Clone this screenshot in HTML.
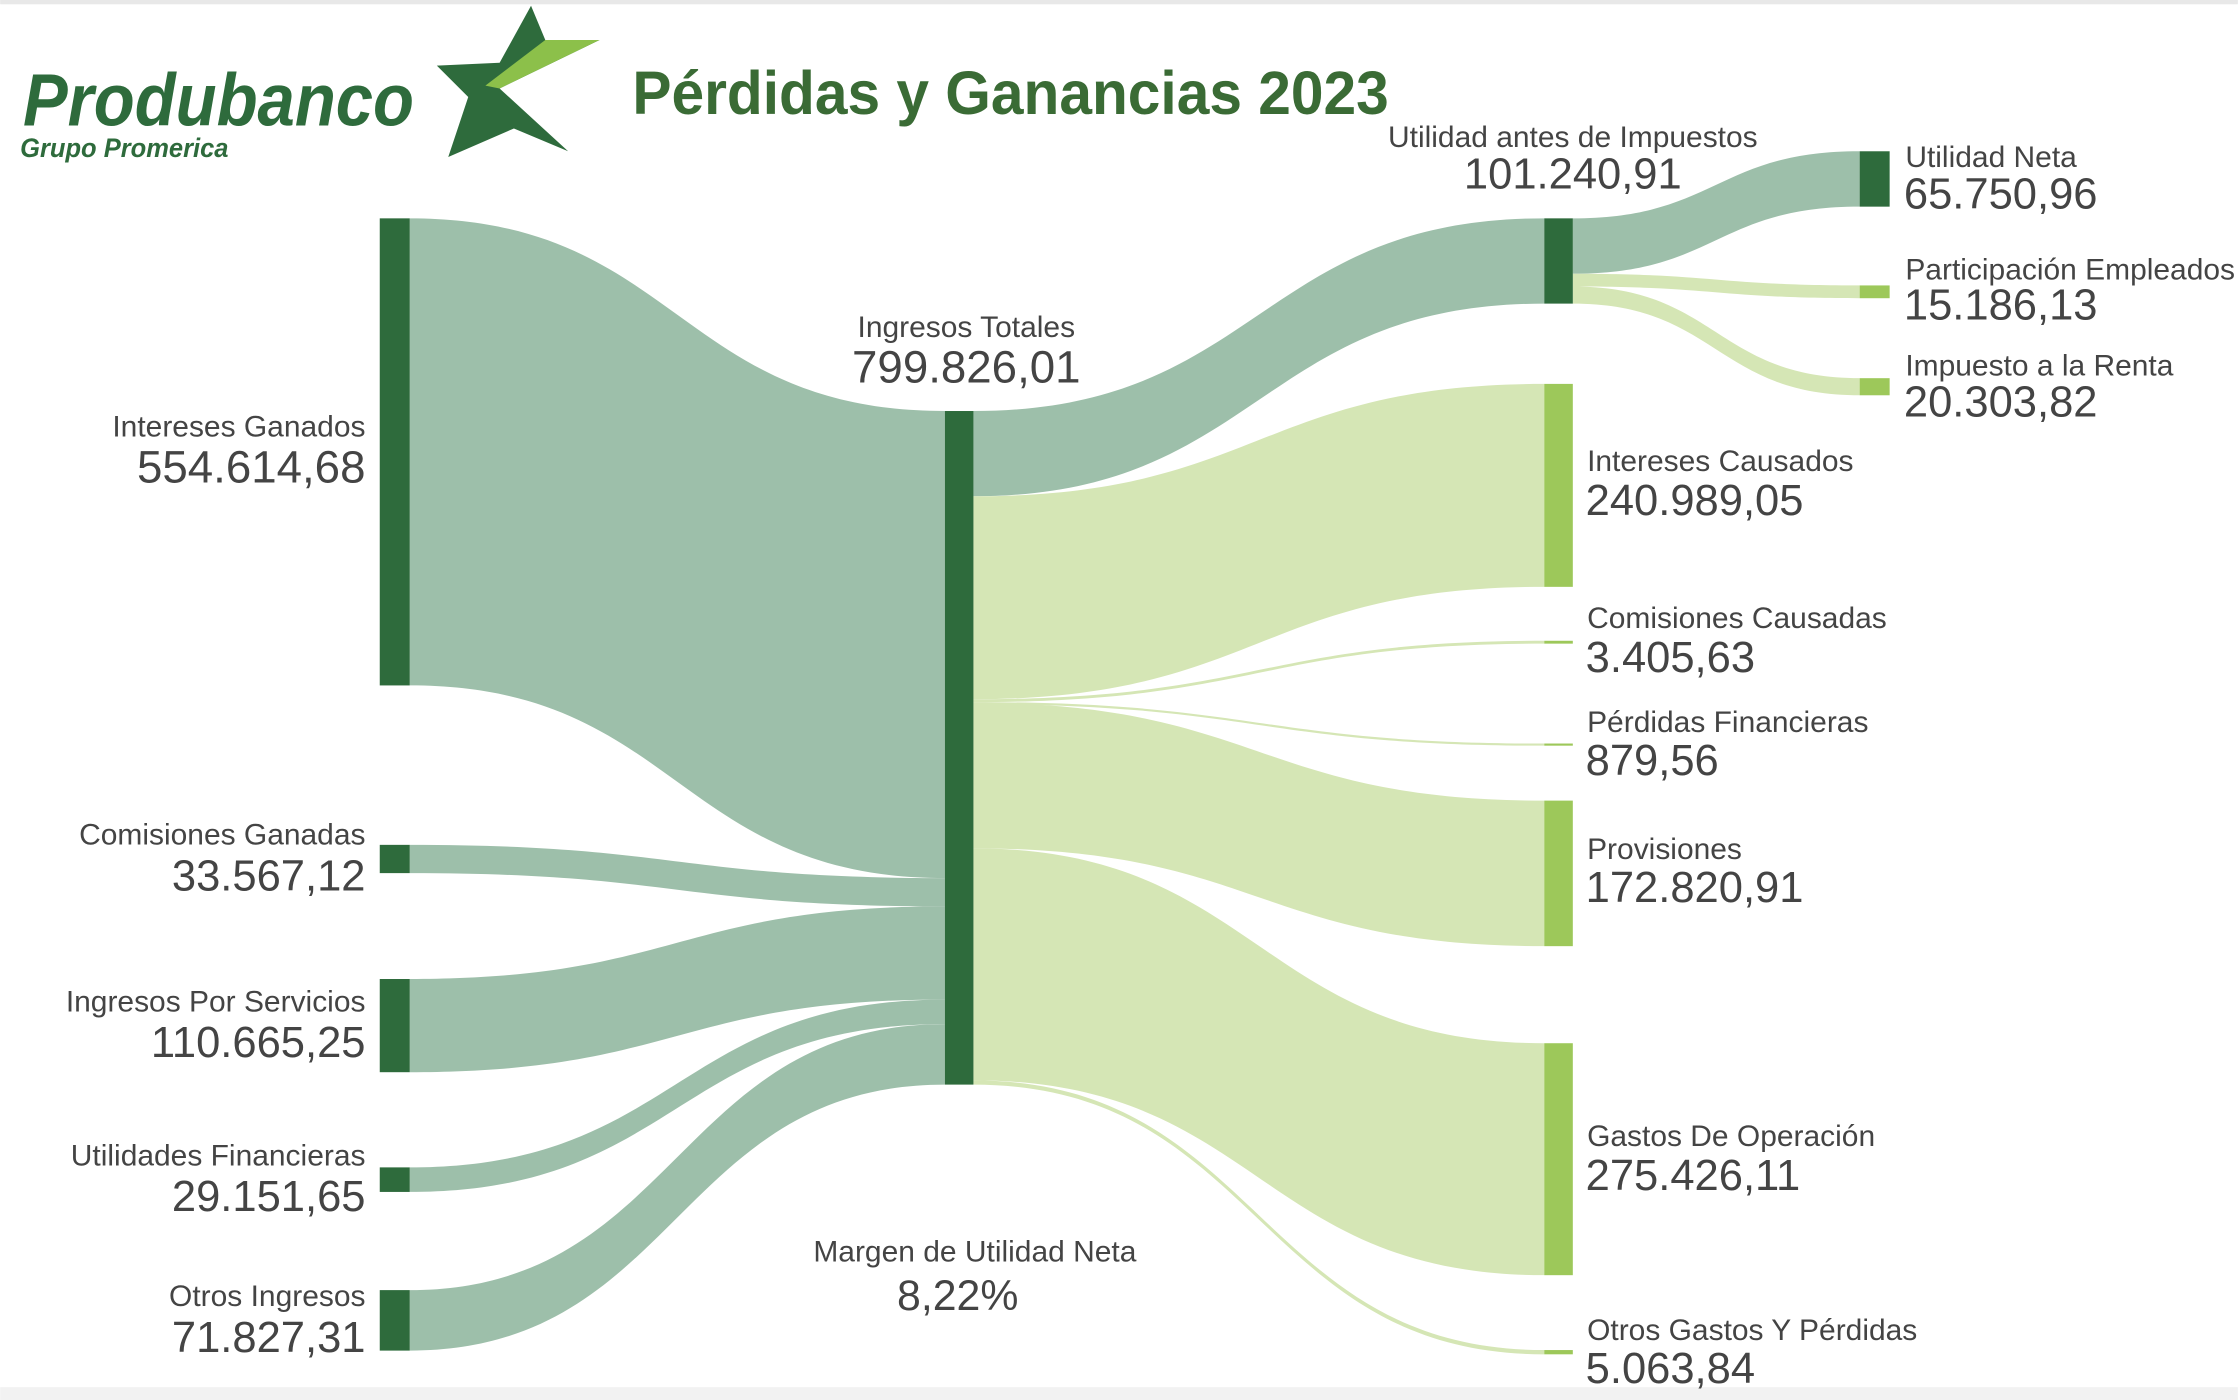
<!DOCTYPE html>
<html><head><meta charset="utf-8">
<style>
html,body{margin:0;padding:0;background:#fff;}
svg{display:block;}
text{font-family:"Liberation Sans",sans-serif;fill:#444;}
</style></head>
<body>
<svg id="chart" width="2238" height="1400" viewBox="0 0 1568 981" xmlns="http://www.w3.org/2000/svg">
<rect x="0" y="0" width="1568" height="981" fill="#fff"/>
<rect x="0" y="0" width="1568" height="3" fill="#e8e8e8"/>
<rect x="0" y="972" width="1568" height="9" fill="#f2f2f2"/>
<g>
<text x="16" y="88" textLength="274" lengthAdjust="spacingAndGlyphs" style="font-size:52px;font-weight:bold;font-style:italic;fill:#2e6b3c">Produbanco</text>
<text x="14" y="110" textLength="146" lengthAdjust="spacingAndGlyphs" style="font-size:19px;font-weight:bold;font-style:italic;fill:#2e6b3c">Grupo Promerica</text>
<polygon points="372,4 382,28 420,28 350,62 398,106 360,90 314,110 328,68 306,46 350,44" fill="#2e6b3c"/>
<polygon points="382,28 420,28 350,62 340,60" fill="#8cc04a"/>
</g>
<text x="443" y="80" textLength="530" lengthAdjust="spacingAndGlyphs" style="font-size:43px;font-weight:bold;fill:#3a6b35">Pérdidas y Ganancias 2023</text>
<g id="links"></g>
<g id="nodes"></g>
<g id="labels"></g>
</svg>
<script>
// Data
const leftNames = ["Intereses Ganados","Comisiones Ganadas","Ingresos Por Servicios","Utilidades Financieras","Otros Ingresos"];
const leftValues = [554614.68,33567.12,110665.25,29151.65,71827.31];
const rightNames = ["Utilidad antes de Impuestos","Intereses Causados","Comisiones Causadas","Pérdidas Financieras","Provisiones","Gastos De Operación","Otros Gastos Y Pérdidas"];
const rightValues = [101240.91,240989.05,3405.63,879.56,172820.91,275426.11,5063.84];
const farNames = ["Utilidad Neta","Participación Empleados","Impuesto a la Renta"];
const farValues = [65750.96,15186.13,20303.82];
const totalLabel = "799.826,01";
const marginLabel = "8,22%";

const svgNS="http://www.w3.org/2000/svg";
const K = 472/799826.01;
const h = v=>Math.max(v*K,1.5);
const fmt = v=>{const p=v.toFixed(2).split('.');return p[0].replace(/\B(?=(\d{3})+(?!\d))/g,'.')+','+p[1];};
const linksG=document.getElementById('links'),nodesG=document.getElementById('nodes'),labelsG=document.getElementById('labels');
function rect(x,y,w,hh,fill,name){const r=document.createElementNS(svgNS,'rect');r.setAttribute('x',x);r.setAttribute('y',y);r.setAttribute('width',w);r.setAttribute('height',hh);r.setAttribute('fill',fill);


nodesG.appendChild(r);}
function link(x0,y0,x1,y1,th,fill,name){const mx=(x0+x1)/2;const p=document.createElementNS(svgNS,'path');
p.setAttribute('d',`M${x0},${y0}C${mx},${y0} ${mx},${y1} ${x1},${y1}L${x1},${y1+th}C${mx},${y1+th} ${mx},${y0+th} ${x0},${y0+th}Z`);p.setAttribute('fill',fill);


linksG.appendChild(p);}
function txt(x,y,s,size,anchor,name){const t=document.createElementNS(svgNS,'text');t.setAttribute('x',x);t.setAttribute('y',y);t.setAttribute('text-anchor',anchor);t.style.fontSize=size+'px';t.textContent=s;


labelsG.appendChild(t);}
const slug=s=>s.toLowerCase().normalize('NFD').replace(/[\u0300-\u036f]/g,'').replace(/[^a-z0-9]+/g,'-');

const DARK="#2e6b3c",LL="#9dbfaa",RL="#d5e6b5",RN="#9dc85a";
const NS=21, VS=30.5;
// center
const cx=662,cw=20,cy=288;
let tot=leftValues.reduce((a,b)=>a+b,0);
rect(cx,cy,cw,tot*K,DARK,'node-ingresos-totales');
txt(677,236,"Ingresos Totales",NS,'middle','center-name');
txt(677,268,totalLabel,32,'middle','center-value');
txt(683,884,"Margen de Utilidad Neta",NS,'middle','margin-name');
txt(671,918,marginLabel,30,'middle','margin-value');
// left
const leftTops=[153,592,686,818,904];
let acc=cy;
leftValues.forEach((v,i)=>{const hh=h(v);link(287,leftTops[i],cx,acc,hh,LL,'link-'+slug(leftNames[i]));
rect(266,leftTops[i],21,hh,DARK,'node-'+slug(leftNames[i]));
const c=leftTops[i]+hh/2;
if(i==0){txt(256,306,leftNames[i],NS,'end','label-'+slug(leftNames[i]));txt(256,338,fmt(v),32,'end','value-'+slug(leftNames[i]));}
else{txt(256,c-10,leftNames[i],NS,'end','label-'+slug(leftNames[i]));txt(256,c+22,fmt(v),VS,'end','value-'+slug(leftNames[i]));}
acc+=v*K;});
// right
const rightTops=[153,269,449,521,561,731,946];
acc=cy;
rightValues.forEach((v,i)=>{const hh=h(v);const col=i==0?LL:RL;link(cx+cw,acc,1082,rightTops[i],hh,col,'link-'+slug(rightNames[i]));
rect(1082,rightTops[i],20,hh,i==0?DARK:RN,'node-'+slug(rightNames[i]));
acc+=v*K;});
txt(1102,103,rightNames[0],NS,'middle','label-utilidad-antes');
txt(1102,132,fmt(rightValues[0]),VS,'middle','value-utilidad-antes');
const rLab=[[0,0],[330,361],[440,471],[513,543],[602,632],[803,834],[939,969]];
for(let i=1;i<rightNames.length;i++){txt(1112,rLab[i][0],rightNames[i],NS,'start','label-'+slug(rightNames[i]));txt(1111,rLab[i][1],fmt(rightValues[i]),VS,'start','value-'+slug(rightNames[i]));}
// far right
const farTops=[106,200,265];
acc=153;
farValues.forEach((v,i)=>{const hh=h(v);link(1102,acc,1303,farTops[i],hh,i==0?LL:RL,'link-'+slug(farNames[i]));
rect(1303,farTops[i],21,hh,i==0?DARK:RN,'node-'+slug(farNames[i]));acc+=v*K;});
const fLab=[[117,146],[196,224],[263,292]];
farNames.forEach((n,i)=>{txt(1335,fLab[i][0],n,NS,'start','label-'+slug(n));txt(1334,fLab[i][1],fmt(farValues[i]),VS,'start','value-'+slug(n));});
</script>
</body></html>
